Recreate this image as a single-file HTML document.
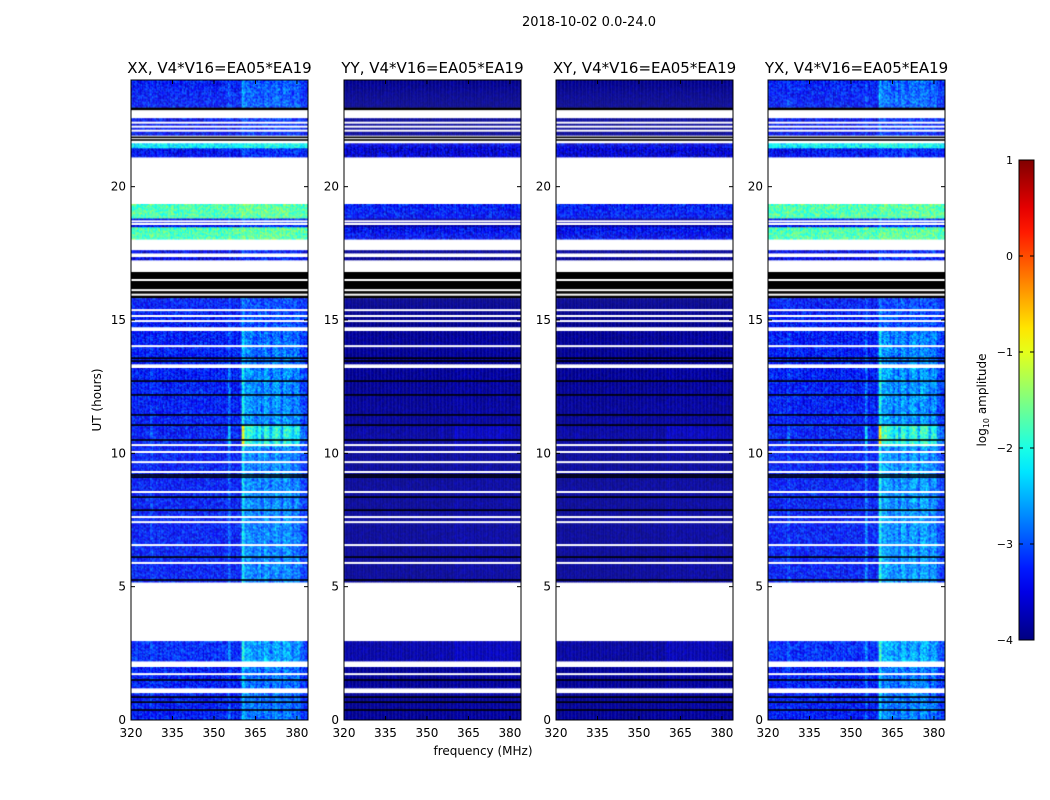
<!DOCTYPE html>
<html><head><meta charset="utf-8">
<style>
body{margin:0;background:#fff;width:1050px;height:800px;overflow:hidden;position:relative;font-family:"DejaVu Sans","Liberation Sans",sans-serif;}
canvas{position:absolute;}
svg{position:absolute;left:0;top:0;}
</style></head>
<body>
<canvas id="c0" width="177" height="640" style="left:131px;top:80px"></canvas>
<canvas id="c1" width="177" height="640" style="left:344px;top:80px"></canvas>
<canvas id="c2" width="177" height="640" style="left:556px;top:80px"></canvas>
<canvas id="c3" width="177" height="640" style="left:768px;top:80px"></canvas>
<svg id="ax" width="1050" height="800"></svg>
<script>
// ---- data ----
const panelTitles = ["XX, V4*V16=EA05*EA19","YY, V4*V16=EA05*EA19","XY, V4*V16=EA05*EA19","YX, V4*V16=EA05*EA19"];
// segments: [startHour, endHour, kind, levelXX, levelYY, levelXY, levelYX, rfiXX, rfiYY, rfiXY, rfiYX]
const segments = [
 [0,1.01,'d',-3.3,-3.9,-3.9,-3.3,1.0,0.1,0.1,1.1],
 [1.01,1.2,'w'],
 [1.2,1.99,'d',-3.3,-3.9,-3.9,-3.3,1.0,0.1,0.1,1.1],
 [1.99,2.21,'w'],
 [2.21,2.96,'d',-3.2,-3.8,-3.85,-3.2,1.3,0.2,0.2,1.4],
 [2.96,5.17,'w'],
 [5.17,10.27,'d',-3.3,-3.9,-3.9,-3.3,1.2,0.1,0.1,1.4],
 [10.27,11.06,'d',-3.3,-3.85,-3.85,-3.3,2.6,0.3,0.3,2.8],
 [11.06,13.2,'d',-3.3,-3.9,-3.9,-3.3,1.3,0.1,0.1,1.4],
 [13.2,13.35,'w'],
 [13.35,14.59,'d',-3.3,-3.9,-3.9,-3.3,1.0,0.05,0.05,1.2],
 [14.59,14.74,'w'],
 [14.74,15.82,'d',-3.3,-3.95,-3.95,-3.3,0.6,0,0,0.6],
 [15.82,16.8,'k'],
 [16.8,17.25,'w'],
 [17.25,17.36,'d',-3.5,-3.9,-3.9,-3.5,0.5,0,0,0.5],
 [17.36,17.51,'w'],
 [17.51,17.62,'d',-3.5,-3.9,-3.9,-3.5,0.5,0,0,0.5],
 [17.62,18.03,'w'],
 [18.03,18.49,'d',-1.75,-3.4,-3.4,-1.75,0.2,0,0,0.2],
 [18.49,18.82,'d',-3.4,-3.8,-3.8,-3.4,0.5,0,0,0.5],
 [18.82,19.35,'d',-1.75,-3.3,-3.3,-1.75,0.2,0,0,0.2],
 [19.35,21.11,'w'],
 [21.11,21.45,'d',-3.4,-3.6,-3.6,-3.4,0.4,0,0,0.4],
 [21.45,21.63,'d',-2.2,-3.5,-3.5,-2.2,0.3,0,0,0.3],
 [21.63,21.93,'w'],
 [21.93,22.57,'d',-3.4,-3.9,-3.9,-3.4,0.5,0,0,0.5],
 [22.57,22.87,'w'],
 [22.87,22.98,'k'],
 [22.98,24,'d',-3.3,-3.95,-3.95,-3.3,0.8,0,0,0.9]
];
const whiteLines = [1.72,5.89,6.56,7.42,7.61,8.55,9.3,9.67,10.05,10.31,14.02,14.96,15.15,15.37,15.95,16.12,16.5,18.6,18.7,21.8,22.1,22.25,22.4];
const blackLines = [0.375,0.67,0.86,1.5,5.25,6.11,7.87,8.36,9.11,9.19,10.5,11.06,11.44,12.19,12.71,13.46,13.57,21.75,21.85];
// frequency profile of RFI (log10 offset per 1 MHz bin, 320..383)
const freqBins = [];
for (let f=320; f<384; f++) freqBins.push(f);
const freqProfile = [0,0,0,0,0,0,0,0.15,0,0,0,0,0,0,0,0,0,0,0,0,
 0,0,0,0,0,0,0,0,0,0,0,0,0,0,0,0.35,0,0,0,0,
 0.9,0.5,0.55,0.5,0.45,0.35,0.5,0.3,0.55,0.5,0.3,0.45,0.55,0.5,0.3,0.55,0.5,0.5,0.3,0.45,0.45,0.2,0.15,0.1];
const xTicks = [320,335,350,365,380];
const yTicks = [0,5,10,15,20];
const cbTicks = [1,0,-1,-2,-3,-4];

// ---- geometry ----
const panelX = [131,344,556,768], PY=80, PW=177, PH=640;
const fMin=320, fMax=384, hMin=0, hMax=24, vMin=-4, vMax=1;
const xs = f => (f-fMin)/(fMax-fMin)*PW;
const ys = h => PH - (h-hMin)/(hMax-hMin)*PH;

function jet(v){
  let t=(v-vMin)/(vMax-vMin); t=Math.max(0,Math.min(1,t));
  const c=x=>Math.round(255*Math.max(0,Math.min(1,x)));
  return `rgb(${c(1.5-Math.abs(4*t-3))},${c(1.5-Math.abs(4*t-2))},${c(1.5-Math.abs(4*t-1))})`;
}
function hash(a,b){let h=(a*374761393+b*668265263)|0;h=(h^(h>>>13))*1274126177|0;return ((h^(h>>>16))>>>0)/4294967295;}

const rowH = 0.0375;
for (let p=0;p<4;p++){
  const ctx=document.getElementById('c'+p).getContext('2d');
  ctx.fillStyle='#fff';ctx.fillRect(0,0,PW,PH);
  segments.forEach((s,si)=>{
    const y0=ys(s[1]), y1=ys(s[0]);
    if (s[2]==='w'){ctx.fillStyle='#fff';ctx.fillRect(0,y0,PW,y1-y0);return;}
    if (s[2]==='k'){ctx.fillStyle='#000';ctx.fillRect(0,y0,PW,y1-y0);return;}
    const base=s[3+p], rfi=s[7+p];
    const amp = base < -3.7 ? 0.35 : 0.9;
    const nr=Math.max(1,Math.round((s[1]-s[0])/rowH));
    for (let r=0;r<nr;r++){
      const ha=s[0]+(s[1]-s[0])*r/nr, hb=s[0]+(s[1]-s[0])*(r+1)/nr;
      freqBins.forEach((f,fi)=>{
        for (let k=0;k<2;k++){
          const n=(hash(si*1000+r,fi*2+k+p*997)-0.5)*amp;
          const v=base+rfi*freqProfile[fi]+n;
          ctx.fillStyle=jet(v);
          const xa=xs(f+k*0.5), xb=xs(f+k*0.5+0.5);
          ctx.fillRect(xa,ys(hb),xb-xa+0.3,ys(ha)-ys(hb)+0.3);
        }
      });
    }
  });
  whiteLines.forEach(h=>{ctx.fillStyle='#fff';ctx.fillRect(0,ys(h)-1,PW,2);});
  blackLines.forEach(h=>{ctx.fillStyle='#000';ctx.fillRect(0,ys(h)-0.8,PW,1.6);});
}

// ---- axes ----
const svg=document.getElementById('ax'), NS='http://www.w3.org/2000/svg';
function el(tag,attrs,parent){const e=document.createElementNS(NS,tag);for(const k in attrs)e.setAttribute(k,attrs[k]);(parent||svg).appendChild(e);return e;}
function txt(str,attrs,parent){const e=el('text',attrs,parent);e.textContent=str;return e;}

const sup=txt('2018-10-02 0.0-24.0',{x:589,y:26,'font-size':13,'text-anchor':'middle','font-family':'DejaVu Sans, Liberation Sans, sans-serif'});



for (let p=0;p<4;p++){
  const g=el('g',{transform:`translate(${panelX[p]},${PY})`,'font-family':'DejaVu Sans, Liberation Sans, sans-serif'});
  
  
  const fr=el('rect',{x:0,y:0,width:PW,height:PH,fill:'none',stroke:'#000','stroke-width':1},g);
  
  
  const t=txt(panelTitles[p],{x:PW/2,y:-7,'font-size':15,'text-anchor':'middle'},g);
  
  
  xTicks.forEach(v=>{
    const x=xs(v);
    el('line',{x1:x,x2:x,y1:PH,y2:PH-4,stroke:'#000'},g);
    el('line',{x1:x,x2:x,y1:0,y2:4,stroke:'#000'},g);
    const l=txt(String(v),{x:x,y:PH+17,'font-size':12,'text-anchor':'middle'},g);
    
    
  });
  yTicks.forEach(v=>{
    const y=ys(v);
    el('line',{x1:0,x2:4,y1:y,y2:y,stroke:'#000'},g);
    el('line',{x1:PW,x2:PW-4,y1:y,y2:y,stroke:'#000'},g);
    const l=txt(String(v),{x:-5,y:y+4,'font-size':12,'text-anchor':'end'},g);
    
    
  });
}
const yl=txt('UT (hours)',{x:0,y:0,'font-size':12,'text-anchor':'middle',transform:'translate(101,400) rotate(-90)','font-family':'DejaVu Sans, sans-serif'});


const xl=txt('frequency (MHz)',{x:483,y:755,'font-size':12,'text-anchor':'middle','font-family':'DejaVu Sans, sans-serif'});



// colorbar
const CBX=1019,CBY=160,CBW=15,CBH=480;
const defs=el('defs',{});
const grad=el('linearGradient',{id:'jetg',x1:0,y1:1,x2:0,y2:0},defs);
for(let i=0;i<=20;i++){const v=vMin+(vMax-vMin)*i/20;el('stop',{offset:(i/20),'stop-color':jet(v)},grad);}
const cb=el('rect',{x:CBX,y:CBY,width:CBW,height:CBH,fill:'url(#jetg)',stroke:'#000','stroke-width':1});


const cbY=v=>CBY+(vMax-v)/(vMax-vMin)*CBH;
cbTicks.forEach(v=>{
  const y=cbY(v);
  el('line',{x1:CBX,x2:CBX+4,y1:y,y2:y,stroke:'#000'});
  el('line',{x1:CBX+CBW,x2:CBX+CBW-4,y1:y,y2:y,stroke:'#000'});
  const l=txt(v<0?'\u2212'+(-v):String(v),{x:CBX-6,y:y+4,'font-size':11,'text-anchor':'end','font-family':'DejaVu Sans, sans-serif'});
  
  
});
const cl=el('text',{x:0,y:0,'font-size':12,'text-anchor':'middle',transform:'translate(986,400) rotate(-90)','font-family':'DejaVu Sans, sans-serif'});


cl.appendChild(document.createTextNode('log'));
const sub=el('tspan',{'font-size':8,dy:3},cl);sub.textContent='10';
const rest=el('tspan',{dy:-3},cl);rest.textContent=' amplitude';
</script>
</body></html>
